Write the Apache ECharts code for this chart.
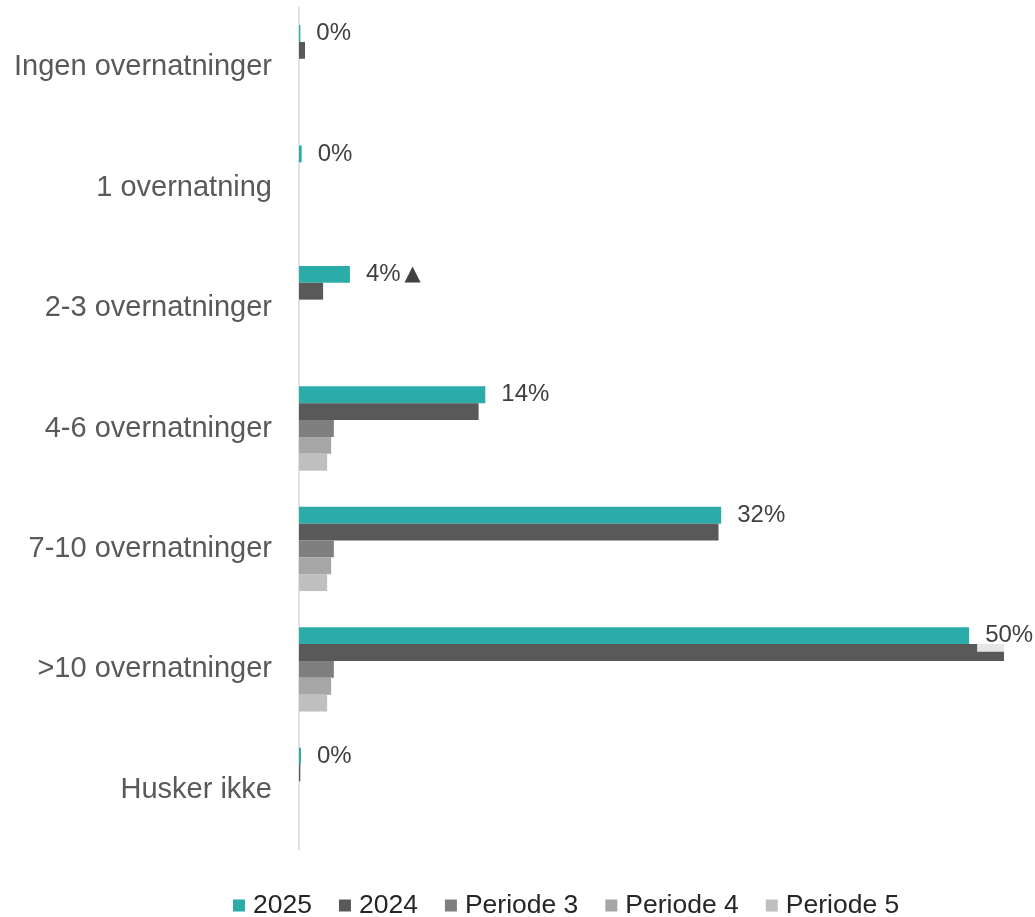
<!DOCTYPE html>
<html>
<head>
<meta charset="utf-8">
<script src="https://cdn.jsdelivr.net/npm/echarts@6/dist/echarts.min.js"></script>
<style>
html,body{margin:0;padding:0;background:#fff;}
#chart{width:1035px;height:917px;}
</style>
</head>
<body>
<div id="chart"></div>
<script>
var categories = ['Ingen overnatninger','1 overnatning','2-3 overnatninger','4-6 overnatninger','7-10 overnatninger','>10 overnatninger','Husker ikke'];
var seriesNames = ['2025','2024','Periode 3','Periode 4','Periode 5'];
var values2025 = [0.1, 0.2, 3.8, 13.9, 31.5, 50.0, 0.15];
var values2024 = [0.45, 0, 1.8, 13.4, 31.3, 52.6, 0.1];
var valuesP3 = [null, null, null, 2.6, 2.6, 2.6, null];
var valuesP4 = [null, null, null, 2.4, 2.4, 2.4, null];
var valuesP5 = [null, null, null, 2.1, 2.1, 2.1, null];
var upMarks = [false, false, true, false, false, false, false];

var colors = ['#2BACA8','#595959','#7F7F7F','#A6A6A6','#BFBFBF'];
var font = '"Liberation Sans", Arial, sans-serif';
var allData = [values2025, values2024, valuesP3, valuesP4, valuesP5];

var series = allData.map(function(d, i){
  var s = {
    name: seriesNames[i],
    type: 'bar',
    data: d,
    barGap: '0%',
    barCategoryGap: '30%',
    itemStyle: {color: colors[i]},
    emphasis: {disabled: true}
  };
  if (i === 0) {
    s.label = {
      show: true,
      position: 'right',
      distance: 8,
      padding: [4, 8],
      backgroundColor: 'rgba(255,255,255,0.85)',
      color: '#404040',
      fontSize: 24,
      fontFamily: font,
      formatter: function(p){
        var t = Math.round(p.value) + '%';
        if (upMarks[p.dataIndex]) t += '{t|▲}';
        return t;
      },
      rich: {
        t: {fontSize: 21, color: '#404040', fontFamily: 'DejaVu Sans', padding: [0,0,0,4]}
      }
    };
  }
  return s;
});

var chart = echarts.init(document.getElementById('chart'), null, {renderer: 'canvas'});
chart.setOption({
  animation: false,
  color: colors,
  grid: {left: 299, right: 31, top: 7, bottom: 67, containLabel: false},
  xAxis: {
    type: 'value',
    min: 0,
    max: 52.6,
    show: false,
    splitLine: {show: false}
  },
  yAxis: {
    type: 'category',
    data: categories,
    inverse: true,
    axisLine: {show: true, lineStyle: {color: '#D9D9D9', width: 1.5}},
    axisTick: {show: false},
    axisLabel: {color: '#595959', fontSize: 29, fontFamily: font, margin: 27}
  },
  legend: {
    data: seriesNames,
    left: 228,
    top: 887,
    icon: 'rect',
    itemWidth: 12,
    itemHeight: 12,
    itemGap: 27,
    textStyle: {color: '#262626', fontSize: 26.5, fontFamily: font, padding: [0,0,0,3]}
  },
  series: series
});
</script>
</body>
</html>
